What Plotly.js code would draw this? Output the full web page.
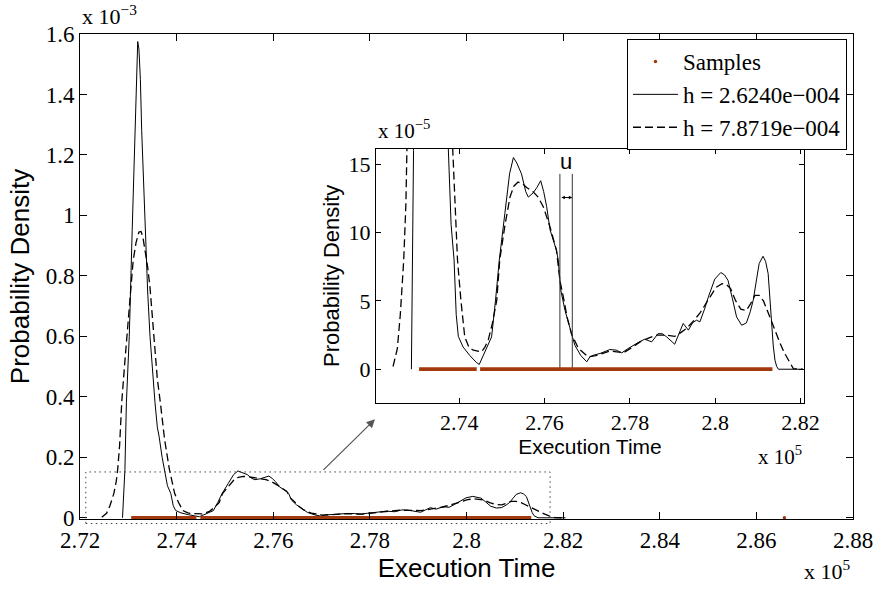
<!DOCTYPE html>
<html>
<head>
<meta charset="utf-8">
<script src="https://cdn.plot.ly/plotly-3.0.1.min.js"></script>
<style>html,body{margin:0;padding:0;background:#fff;}#chart{width:878px;height:590px;}</style>
</head>
<body>
<div id="chart"></div>
<script>
// Execution time in units of 1e5; density in units of 1e-5
const timeA = [2.7288,2.7290,2.7293,2.7296,2.7302,2.7308,2.7312,2.7314,2.7317,2.73195,2.7322,2.7325,2.73277,2.7331,2.73346,2.7340,2.73449,2.7350,2.73553,2.7360,2.73636,2.7370,2.73751,2.7381,2.7388,2.7393,2.7398,2.7409,2.7425,2.7440,2.7447,2.7455,2.7464,2.7476,2.7485,2.7494,2.7507,2.7518,2.7527,2.7535,2.7546,2.7556,2.7562,2.7573,2.7582,2.7591,2.7598,2.7605,2.7613,2.7628,2.7632,2.7638,2.7648,2.7659,2.7671,2.7685,2.7699,2.7706,2.7714,2.7730,2.7753,2.7768,2.7781,2.7795,2.7808,2.7822,2.7835,2.7851,2.7866,2.7876,2.7886,2.7898,2.7905,2.7915,2.7925,2.7937,2.7947,2.7956,2.7964,2.7975,2.7984,2.7999,2.8013,2.8022,2.8030,2.8040,2.8050,2.8062,2.8073,2.8082,2.8089,2.8097,2.8103,2.8112,2.8118,2.8124,2.8128,2.8132,2.8136,2.8140,2.8144,2.8148,2.8205];
const densA = [0,5,16,38,60,95,120,128,150,157.5,155,145,128,112,95,75,60,48,38,30,27,20,16,10.6,8.0,4.0,2.4,1.63,1.0,0.5,0.35,0.9,1.63,2.37,5.0,8.0,11.4,14.3,15.5,15.1,14.3,13.0,12.6,12.9,13.3,13.8,13.0,11.9,10.2,8.7,8.0,5.8,4.3,3.1,1.76,1.0,0.54,0.9,1.02,1.15,1.44,1.4,1.2,1.5,1.76,2.0,2.2,2.0,2.6,2.6,2.37,2.0,1.83,2.6,3.35,2.86,3.4,3.59,3.47,4.4,5.3,6.6,7.08,6.9,6.5,5.2,3.83,3.22,3.39,4.2,5.05,6.6,7.74,8.27,7.9,7.0,5.2,3.1,1.7,0.66,0.2,0,0];

const timeB = [2.7245,2.7255,2.7262,2.72656,2.7270,2.7275,2.7278,2.7282,2.72863,2.7292,2.72967,2.7302,2.7306,2.7310,2.7316,2.7322,2.73263,2.7330,2.7335,2.7340,2.7345,2.73532,2.7360,2.73664,2.7375,2.7385,2.7391,2.7396,2.7404,2.7413,2.7423,2.7433,2.7452,2.7460,2.7468,2.7478,2.7488,2.7495,2.7507,2.7519,2.7528,2.7538,2.7548,2.7558,2.7573,2.7585,2.7597,2.7613,2.7628,2.7636,2.7644,2.7653,2.7663,2.7679,2.7702,2.7720,2.7753,2.7785,2.7805,2.7824,2.7845,2.7862,2.7885,2.7905,2.7920,2.7933,2.7948,2.7964,2.7976,2.7988,2.8002,2.8016,2.8026,2.8036,2.8048,2.8060,2.8073,2.8083,2.8093,2.8103,2.8113,2.8122,2.8132,2.8142,2.8152,2.8162,2.8171,2.8183,2.8205];
const densB = [0.2,1.5,4,5.5,8,12,16,24,38,50,60,70,78,85,91,94.5,94.7,93,88,83,76,60,46,38,26,16,11,8.0,5.05,2.37,1.6,1.39,1.27,1.6,2.12,3.4,5.05,8.0,10.5,12.6,13.4,13.7,13.6,13.3,13.0,12.6,11.9,10.4,8.7,6.5,5.3,3.8,2.6,1.54,0.9,1.0,1.33,1.2,1.6,2.0,2.3,2.5,2.5,2.4,2.7,3.0,3.5,4.1,4.7,5.3,6.0,6.27,6.2,5.9,5.0,4.4,4.3,4.8,5.4,5.4,5.0,4.3,3.5,2.6,1.9,1.2,0.66,0.05,0];

// Samples: dense runs (start/end) plus an isolated sample
const sampleRunStart = [2.7306, 2.7449];
const sampleRunEnd   = [2.7441, 2.8134];
const sampleIsolated = [2.8658];

const seriesNames = ['Samples', 'h = 2.6240e\u2212004', 'h = 7.8719e\u2212004'];

// bandwidth marker u in the inset
const uBounds = [2.7636, 2.7665];
const uTop = 14.3;
const uArrowY = 12.57;

// zoom box region (main axes)
const zoomBoxX = [2.7212, 2.8173];

const ORANGE = '#a3380c';
const serif = 'Liberation Serif';
const sans = 'Liberation Sans';

const toMain = a => a.map(v => v / 100); // 1e-5 -> 1e-3 units

const runX = [], runY = [];
sampleRunStart.forEach((s, i) => { runX.push(s, sampleRunEnd[i], null); runY.push(0, 0, null); });

const uX = [uBounds[0], uBounds[0], null, uBounds[1], uBounds[1]];
const uY = [0, uTop, null, 0, uTop];

const dashStyle = '8px,4px';

const traces = [
  {x: sampleIsolated, y: sampleIsolated.map(() => 0), mode: 'markers', name: seriesNames[0],
   marker: {color: ORANGE, size: 3.5}, cliponaxis: false, xaxis: 'x', yaxis: 'y'},
  {x: timeA, y: toMain(densA), mode: 'lines', name: seriesNames[1],
   line: {color: '#000', width: 1}, xaxis: 'x', yaxis: 'y'},
  {x: timeB, y: toMain(densB), mode: 'lines', name: seriesNames[2],
   line: {color: '#000', width: 1.3, dash: dashStyle}, xaxis: 'x', yaxis: 'y'},
  {x: runX, y: runY, mode: 'lines', showlegend: false, line: {color: ORANGE, width: 3.5},
   xaxis: 'x', yaxis: 'y', hoverinfo: 'skip'},
  // inset
  {x: timeA, y: densA, mode: 'lines', showlegend: false, line: {color: '#000', width: 1}, xaxis: 'x2', yaxis: 'y2'},
  {x: timeB, y: densB, mode: 'lines', showlegend: false, line: {color: '#000', width: 1.3, dash: dashStyle}, xaxis: 'x2', yaxis: 'y2'},
  {x: uX, y: uY, mode: 'lines', showlegend: false, line: {color: '#333', width: 1}, xaxis: 'x2', yaxis: 'y2'},
  {x: runX, y: runY, mode: 'lines', showlegend: false, line: {color: ORANGE, width: 3.7}, xaxis: 'x2', yaxis: 'y2'}
];

function axis(extra) {
  return Object.assign({
    showgrid: false, zeroline: false, showline: true, linecolor: '#000', linewidth: 1,
    mirror: 'ticks', ticks: 'inside', tickcolor: '#000', tickwidth: 1,
    tickfont: {family: serif, size: 23, color: '#000'}
  }, extra);
}

const layout = {
  width: 878, height: 590,
  font: {family: serif, size: 22, color: '#000'},
  margin: {l: 80, r: 25, t: 34, b: 71},
  paper_bgcolor: '#fff', plot_bgcolor: 'rgba(0,0,0,0)',
  showlegend: true,
  legend: {x: 0.9922, y: 0.9897, xanchor: 'right', yanchor: 'top',
    bgcolor: '#fff', bordercolor: '#000', borderwidth: 1,
    font: {family: serif, size: 23, color: '#000'}, itemwidth: 45, tracegroupgap: 0},
  xaxis: axis({domain: [0, 1], range: [2.72, 2.88], tick0: 2.72, dtick: 0.02, ticklen: 7,
    title: {text: 'Execution Time', font: {family: sans, size: 26, color: '#000'}, standoff: 2}}),
  yaxis: axis({domain: [0, 1], range: [-0.004, 1.6], tick0: 0, dtick: 0.2, ticklen: 7,
    title: {text: 'Probability Density', font: {family: sans, size: 26, color: '#000'}, standoff: 8}}),
  xaxis2: axis({anchor: 'y2', domain: [0.3829, 0.9366], range: [2.7205, 2.8208], tick0: 2.72, dtick: 0.02, ticklen: 5,
    tickfont: {family: serif, size: 22, color: '#000'},
    title: {text: 'Execution Time', font: {family: sans, size: 21, color: '#000'}, standoff: 1}}),
  yaxis2: axis({anchor: 'x2', domain: [0.2401, 0.7628], range: [-2.44, 16.12], tick0: 0, dtick: 5, ticklen: 5,
    tickfont: {family: serif, size: 22, color: '#000'},
    title: {text: 'Probability Density', font: {family: sans, size: 22, color: '#000'}, standoff: 2}}),
  shapes: [
    {type: 'rect', xref: 'x', yref: 'paper', x0: zoomBoxX[0], x1: zoomBoxX[1], y0: -0.0093, y1: 0.097,
     line: {color: '#444', width: 1, dash: '1.5px,3.5px'}, fillcolor: 'rgba(0,0,0,0)'}
  ],
  annotations: [
    {xref: 'paper', yref: 'paper', x: 0, y: 1.006, xanchor: 'left', yanchor: 'bottom', showarrow: false,
     text: 'x 10<sup>\u22123</sup>', font: {family: serif, size: 22, color: '#000'}},
    {xref: 'paper', yref: 'paper', x: 1.0, y: -0.106, xanchor: 'right', yanchor: 'middle', showarrow: false,
     text: 'x 10<sup>5</sup>', font: {family: serif, size: 22, color: '#000'}},
    {xref: 'paper', yref: 'paper', x: 0.3829, y: 0.771, xanchor: 'left', yanchor: 'bottom', showarrow: false,
     text: 'x 10<sup>\u22125</sup>', font: {family: serif, size: 21, color: '#000'}},
    {xref: 'paper', yref: 'paper', x: 0.9366, y: 0.131, xanchor: 'right', yanchor: 'middle', showarrow: false,
     text: 'x 10<sup>5</sup>', font: {family: serif, size: 21, color: '#000'}},
    {xref: 'x2', yref: 'y2', x: (uBounds[0] + uBounds[1]) / 2, y: 15.2, showarrow: false,
     text: 'u', font: {family: sans, size: 22, color: '#000'}},
    {xref: 'x2', yref: 'y2', x: uBounds[1], y: uArrowY, axref: 'x2', ayref: 'y2', ax: uBounds[0], ay: uArrowY,
     text: '', showarrow: true, arrowside: 'end+start', arrowhead: 2, arrowsize: 0.7, arrowwidth: 1,
     arrowcolor: '#000', standoff: 0, startstandoff: 0},
    {xref: 'paper', yref: 'paper', x: 0.3816, y: 0.2055, ax: -53, ay: 52, text: '', showarrow: true,
     arrowhead: 2, arrowsize: 1.4, arrowwidth: 1.2, arrowcolor: '#555', standoff: 0}
  ]
};

Plotly.newPlot('chart', traces, layout, {displayModeBar: false, staticPlot: true});
</script>
</body>
</html>
